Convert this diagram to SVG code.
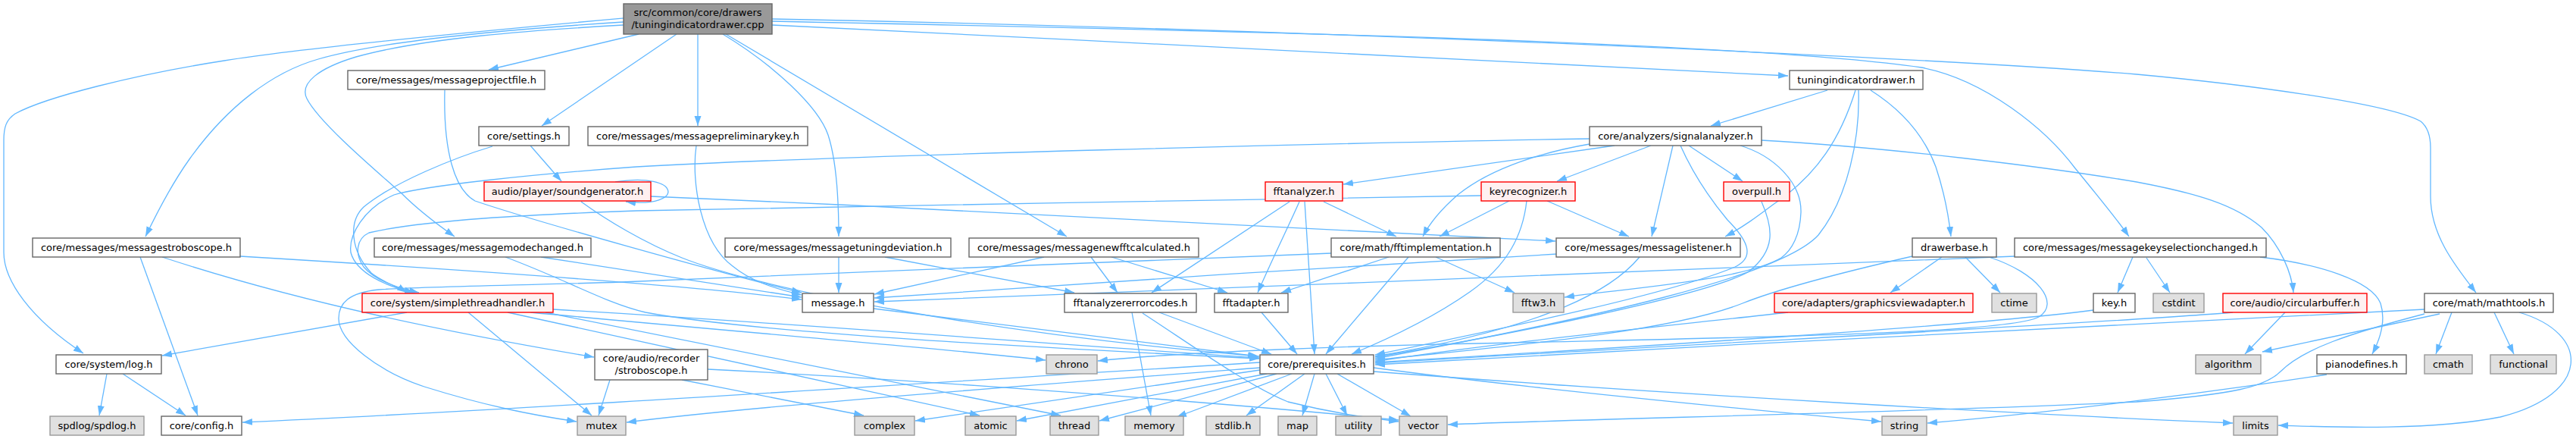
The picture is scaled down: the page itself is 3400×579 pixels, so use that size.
<svg xmlns="http://www.w3.org/2000/svg" width="3400" height="579" viewBox="0 0 3400 579">
<defs>
<marker id="a" markerWidth="14" markerHeight="10" refX="13" refY="5" orient="auto" markerUnits="userSpaceOnUse"><path d="M0,0.5 L13,5 L0,9.5 z" fill="#63b8ff"/></marker>
<style>
rect{stroke-width:1.4}
.n rect{fill:#ffffff;stroke:#666666}
.g rect{fill:#e0e0e0;stroke:#999999}
.r rect{fill:#fff0f0;stroke:#ff0000}
.root rect{fill:#999999;stroke:#666666}
text{font-family:"DejaVu Sans","Liberation Sans",sans-serif;font-size:13px;text-anchor:middle;fill:#000000}
#edges path{fill:none;stroke:#63b8ff;stroke-width:1.3;marker-end:url(#a)}
</style>
</defs>
<rect width="3400" height="579" fill="#ffffff"/>
<g id="edges">
<path d="M823,24 C700,35 420,60 296,80 C180,98 60,128 20,150 C8,158 5,168 5,185 L5,333 C5,370 40,420 110,466"/>
<path d="M823,29 C650,40 500,55 420,78 C360,95 300,140 250,210 C225,245 205,285 192,312"/>
<path d="M823,33 C700,40 560,50 470,75 C420,90 395,110 405,130 C420,160 490,220 530,255 C555,280 580,298 600,312"/>
<path d="M843,45 L645,92"/>
<path d="M893,45 L715,166"/>
<path d="M921,45 L921,166"/>
<path d="M954,45 C1020,85 1080,140 1093,178 C1105,215 1107,270 1107,312"/>
<path d="M958,45 L1408,312"/>
<path d="M1019,33 C1500,56 2100,88 2360,100"/>
<path d="M1019,28 C1600,40 2300,55 2536,89 C2620,105 2700,170 2739,222 C2770,260 2795,290 2810,312"/>
<path d="M1019,25 C1800,40 2600,80 2820,98 C2950,110 3150,135 3195,160 C3205,168 3208,180 3208,195 L3208,259 C3208,310 3240,350 3268,386"/>
<path d="M650,193 C600,208 520,240 480,273 C460,292 462,330 490,360 C505,372 525,378 537,386"/>
<path d="M700,192 L741,239"/>
<path d="M2098,183 C1800,188 1100,205 840,220 C700,230 560,245 520,257 C480,275 460,310 463,333 C470,360 510,378 547,386"/>
<path d="M2131,192 L1773,243"/>
<path d="M2098,190 C2040,200 1970,220 1924,257 C1900,278 1885,298 1878,312"/>
<path d="M2179,192 L2055,239"/>
<path d="M2208,192 L2180,312"/>
<path d="M2229,192 L2300,239"/>
<path d="M2218,192 C2235,230 2255,260 2280,290 C2310,320 2315,340 2290,352 C2200,390 1950,440 1815,468"/>
<path d="M2297,192 C2340,205 2378,240 2377,280 C2376,310 2365,330 2351,340 C2300,370 2150,380 2065,392"/>
<path d="M2325,185 C2500,195 2700,220 2820,240 C2900,255 2950,270 2985,300 C3010,325 3025,360 3027,386"/>
<path d="M1955,258 C1700,265 1100,270 840,278 C700,283 560,290 487,307 C470,315 468,335 480,352 C495,370 525,380 553,386"/>
<path d="M1992,265 L1900,312"/>
<path d="M2042,265 L2150,312"/>
<path d="M2015,265 C2010,310 1990,350 1940,385 C1890,420 1830,448 1784,467"/>
<path d="M1747,266 L1843,312"/>
<path d="M1715,266 C1700,300 1680,340 1660,386"/>
<path d="M1702,266 L1520,386"/>
<path d="M1722,266 L1735,467"/>
<path d="M1895,339 L1999,386"/>
<path d="M1859,339 L1750,467"/>
<path d="M1833,339 L1691,386"/>
<path d="M1757,334 C1500,342 1100,362 820,372 C700,376 560,378 500,382 C460,386 447,400 447,420 C447,450 500,490 560,510 C640,535 700,547 761,556"/>
<path d="M2055,335 C1800,350 1400,375 1154,393"/>
<path d="M2164,339 C2130,380 2050,430 1815,470"/>
<path d="M2325,266 C2340,300 2345,330 2307,359 C2250,390 2000,440 1815,471"/>
<path d="M2412,119 L2258,166"/>
<path d="M2449,119 C2430,180 2400,230 2340,270 C2320,285 2300,300 2277,312"/>
<path d="M2469,119 C2510,145 2540,180 2555,220 C2565,250 2572,285 2575,312"/>
<path d="M2453,119 C2455,180 2440,260 2400,310 C2350,365 2100,420 1815,473"/>
<path d="M2563,339 L2495,386"/>
<path d="M2594,339 L2640,386"/>
<path d="M2524,338 C2450,355 2350,380 2300,400 C2200,440 1950,460 1815,475"/>
<path d="M2625,339 C2690,360 2720,400 2691,418 C2650,440 2300,445 2000,452 C1800,455 1550,465 1449,476"/>
<path d="M2360,412 C2200,430 1950,455 1815,477"/>
<path d="M2659,338 C2400,350 1600,380 1154,398"/>
<path d="M2815,339 L2795,386"/>
<path d="M2833,340 L2864,386"/>
<path d="M2983,339 C3060,348 3130,370 3142,400 C3150,425 3140,450 3131,467"/>
<path d="M2763,409 C2600,430 2200,455 1815,478"/>
<path d="M3016,412 L2963,467"/>
<path d="M2947,412 C2800,425 2300,450 1815,479"/>
<path d="M3236,412 L3215,467"/>
<path d="M3292,412 L3318,467"/>
<path d="M3220,414 L2986,464"/>
<path d="M3325,412 C3420,440 3420,520 3300,550 C3200,570 3050,562 3007,561"/>
<path d="M3200,408 C3000,420 2300,452 1815,481"/>
<path d="M3200,414 C3100,440 3040,460 3010,490 C2990,510 2950,520 2820,530 C2500,545 2100,552 1911,560"/>
<path d="M3071,494 C2900,520 2700,545 2544,558"/>
<path d="M1663,478 C1300,500 700,540 320,557"/>
<path d="M1663,485 C1400,505 1000,535 827,557"/>
<path d="M1663,488 L1208,555"/>
<path d="M1672,493 L1342,555"/>
<path d="M1685,493 L1451,555"/>
<path d="M1705,493 L1553,550"/>
<path d="M1722,493 L1645,548"/>
<path d="M1735,493 L1719,548"/>
<path d="M1750,493 L1778,548"/>
<path d="M1765,493 L1862,549"/>
<path d="M1813,485 C2000,510 2300,540 2483,556"/>
<path d="M1813,490 C2200,520 2700,548 2947,558"/>
<path d="M1153,407 L1660,470"/>
<path d="M1494,412 L1519,548"/>
<path d="M1530,412 L1678,467"/>
<path d="M1508,413 C1580,460 1650,510 1700,530 C1760,545 1810,552 1846,556"/>
<path d="M1665,412 L1712,467"/>
<path d="M1378,339 L1154,388"/>
<path d="M1440,339 L1475,386"/>
<path d="M1467,339 L1620,386"/>
<path d="M1107,339 L1107,386"/>
<path d="M1168,339 L1418,386"/>
<path d="M714,339 L1058,392"/>
<path d="M667,339 C750,370 800,400 852,412 C1000,440 1400,460 1662,473"/>
<path d="M812,240 C900,226 905,275 826,266"/>
<path d="M859,259 C1300,278 1800,302 2053,318"/>
<path d="M767,266 C800,290 850,320 900,340 C1000,380 1300,440 1662,470"/>
<path d="M537,412 L214,469"/>
<path d="M618,412 L781,548"/>
<path d="M730,408 C1100,430 1400,455 1662,472"/>
<path d="M700,412 C1000,440 1250,460 1380,475"/>
<path d="M670,412 L1293,548"/>
<path d="M720,412 L1400,548"/>
<path d="M805,501 L790,548"/>
<path d="M900,501 L1140,548"/>
<path d="M934,487 C1200,500 1600,530 1846,554"/>
<path d="M317,338 C600,355 900,375 1058,395"/>
<path d="M214,339 C400,400 600,440 784,471"/>
<path d="M185,339 L261,548"/>
<path d="M141,493 L131,548"/>
<path d="M162,493 L245,548"/>
<path d="M587,119 C585,200 600,250 627,265 C700,290 950,360 1058,386"/>
<path d="M919,192 C912,240 925,320 967,351 C990,370 1020,380 1058,389"/>
</g>
<g id="root" class="root"><rect x="823" y="5" width="196" height="40"/><text x="921" y="20.5">src/common/core/drawers</text><text x="921" y="37">/tuningindicatordrawer.cpp</text></g>
<g id="n_projfile" class="n"><rect x="459" y="93" width="260" height="25"/><text x="589" y="110">core/messages/messageprojectfile.h</text></g>
<g id="n_tidh" class="n"><rect x="2362" y="93" width="176" height="25"/><text x="2450" y="110">tuningindicatordrawer.h</text></g>
<g id="n_settings" class="n"><rect x="632" y="167" width="119" height="25"/><text x="691.5" y="184">core/settings.h</text></g>
<g id="n_prelim" class="n"><rect x="776" y="167" width="290" height="25"/><text x="921" y="184">core/messages/messagepreliminarykey.h</text></g>
<g id="n_siganalyzer" class="n"><rect x="2098" y="167" width="227" height="25"/><text x="2211.5" y="184">core/analyzers/signalanalyzer.h</text></g>
<g id="n_soundgen" class="r"><rect x="639" y="240" width="220" height="25"/><text x="749" y="257">audio/player/soundgenerator.h</text></g>
<g id="n_fftanalyzer" class="r"><rect x="1670" y="240" width="102" height="25"/><text x="1721" y="257">fftanalyzer.h</text></g>
<g id="n_keyrec" class="r"><rect x="1955" y="240" width="124" height="25"/><text x="2017" y="257">keyrecognizer.h</text></g>
<g id="n_overpull" class="r"><rect x="2275" y="240" width="87" height="25"/><text x="2318.5" y="257">overpull.h</text></g>
<g id="n_msgstrobo" class="n"><rect x="43" y="314" width="274" height="25"/><text x="180" y="331">core/messages/messagestroboscope.h</text></g>
<g id="n_modechanged" class="n"><rect x="494" y="314" width="286" height="25"/><text x="637" y="331">core/messages/messagemodechanged.h</text></g>
<g id="n_tuningdev" class="n"><rect x="957" y="314" width="298" height="25"/><text x="1106" y="331">core/messages/messagetuningdeviation.h</text></g>
<g id="n_newfft" class="n"><rect x="1279" y="314" width="303" height="25"/><text x="1430.5" y="331">core/messages/messagenewfftcalculated.h</text></g>
<g id="n_fftimpl" class="n"><rect x="1757" y="314" width="223" height="25"/><text x="1868.5" y="331">core/math/fftimplementation.h</text></g>
<g id="n_listener" class="n"><rect x="2054" y="314" width="243" height="25"/><text x="2175.5" y="331">core/messages/messagelistener.h</text></g>
<g id="n_drawerbase" class="n"><rect x="2524" y="314" width="111" height="25"/><text x="2579.5" y="331">drawerbase.h</text></g>
<g id="n_keysel" class="n"><rect x="2659" y="314" width="332" height="25"/><text x="2825" y="331">core/messages/messagekeyselectionchanged.h</text></g>
<g id="n_sth" class="r"><rect x="478" y="387" width="252" height="25"/><text x="604" y="404">core/system/simplethreadhandler.h</text></g>
<g id="n_message" class="n"><rect x="1059" y="387" width="94" height="25"/><text x="1106" y="404">message.h</text></g>
<g id="n_errcodes" class="n"><rect x="1405" y="387" width="174" height="25"/><text x="1492" y="404">fftanalyzererrorcodes.h</text></g>
<g id="n_fftadapter" class="n"><rect x="1603" y="387" width="97" height="25"/><text x="1651.5" y="404">fftadapter.h</text></g>
<g id="n_fftw3" class="g"><rect x="1997" y="387" width="67" height="25"/><text x="2030.5" y="404">fftw3.h</text></g>
<g id="n_gva" class="r"><rect x="2342" y="387" width="262" height="25"/><text x="2473" y="404">core/adapters/graphicsviewadapter.h</text></g>
<g id="n_ctime" class="g"><rect x="2629" y="387" width="59" height="25"/><text x="2658.5" y="404">ctime</text></g>
<g id="n_key" class="n"><rect x="2763" y="387" width="55" height="25"/><text x="2790.5" y="404">key.h</text></g>
<g id="n_cstdint" class="g"><rect x="2842" y="387" width="67" height="25"/><text x="2875.5" y="404">cstdint</text></g>
<g id="n_circbuf" class="r"><rect x="2934" y="387" width="190" height="25"/><text x="3029" y="404">core/audio/circularbuffer.h</text></g>
<g id="n_mathtools" class="n"><rect x="3200" y="387" width="170" height="25"/><text x="3285" y="404">core/math/mathtools.h</text></g>
<g id="n_log" class="n"><rect x="74" y="468" width="139" height="25"/><text x="143.5" y="485">core/system/log.h</text></g>
<g id="n_strobo" class="n"><rect x="785" y="461" width="149" height="40"/><text x="859.5" y="477">core/audio/recorder</text><text x="859.5" y="493">/stroboscope.h</text></g>
<g id="n_chrono" class="g"><rect x="1381" y="468" width="67" height="25"/><text x="1414.5" y="485">chrono</text></g>
<g id="n_prereq" class="n"><rect x="1663" y="468" width="150" height="25"/><text x="1738" y="485">core/prerequisites.h</text></g>
<g id="n_algorithm" class="g"><rect x="2898" y="468" width="86" height="25"/><text x="2941" y="485">algorithm</text></g>
<g id="n_pianodef" class="n"><rect x="3058" y="468" width="118" height="25"/><text x="3117" y="485">pianodefines.h</text></g>
<g id="n_cmath" class="g"><rect x="3200" y="468" width="63" height="25"/><text x="3231.5" y="485">cmath</text></g>
<g id="n_functional" class="g"><rect x="3287" y="468" width="87" height="25"/><text x="3330.5" y="485">functional</text></g>
<g id="n_spdlog" class="g"><rect x="66" y="549" width="124" height="25"/><text x="128" y="566">spdlog/spdlog.h</text></g>
<g id="n_config" class="n"><rect x="213" y="549" width="106" height="25"/><text x="266" y="566">core/config.h</text></g>
<g id="n_mutex" class="g"><rect x="762" y="549" width="64" height="25"/><text x="794" y="566">mutex</text></g>
<g id="n_complex" class="g"><rect x="1128" y="549" width="79" height="25"/><text x="1167.5" y="566">complex</text></g>
<g id="n_atomic" class="g"><rect x="1274" y="549" width="67" height="25"/><text x="1307.5" y="566">atomic</text></g>
<g id="n_thread" class="g"><rect x="1386" y="549" width="64" height="25"/><text x="1418" y="566">thread</text></g>
<g id="n_memory" class="g"><rect x="1485" y="549" width="77" height="25"/><text x="1523.5" y="566">memory</text></g>
<g id="n_stdlib" class="g"><rect x="1592" y="549" width="71" height="25"/><text x="1627.5" y="566">stdlib.h</text></g>
<g id="n_map" class="g"><rect x="1687" y="549" width="51" height="25"/><text x="1712.5" y="566">map</text></g>
<g id="n_utility" class="g"><rect x="1763" y="549" width="60" height="25"/><text x="1793" y="566">utility</text></g>
<g id="n_vector" class="g"><rect x="1847" y="549" width="63" height="25"/><text x="1878.5" y="566">vector</text></g>
<g id="n_string" class="g"><rect x="2484" y="549" width="59" height="25"/><text x="2513.5" y="566">string</text></g>
<g id="n_limits" class="g"><rect x="2948" y="549" width="58" height="25"/><text x="2977" y="566">limits</text></g>
</svg>
